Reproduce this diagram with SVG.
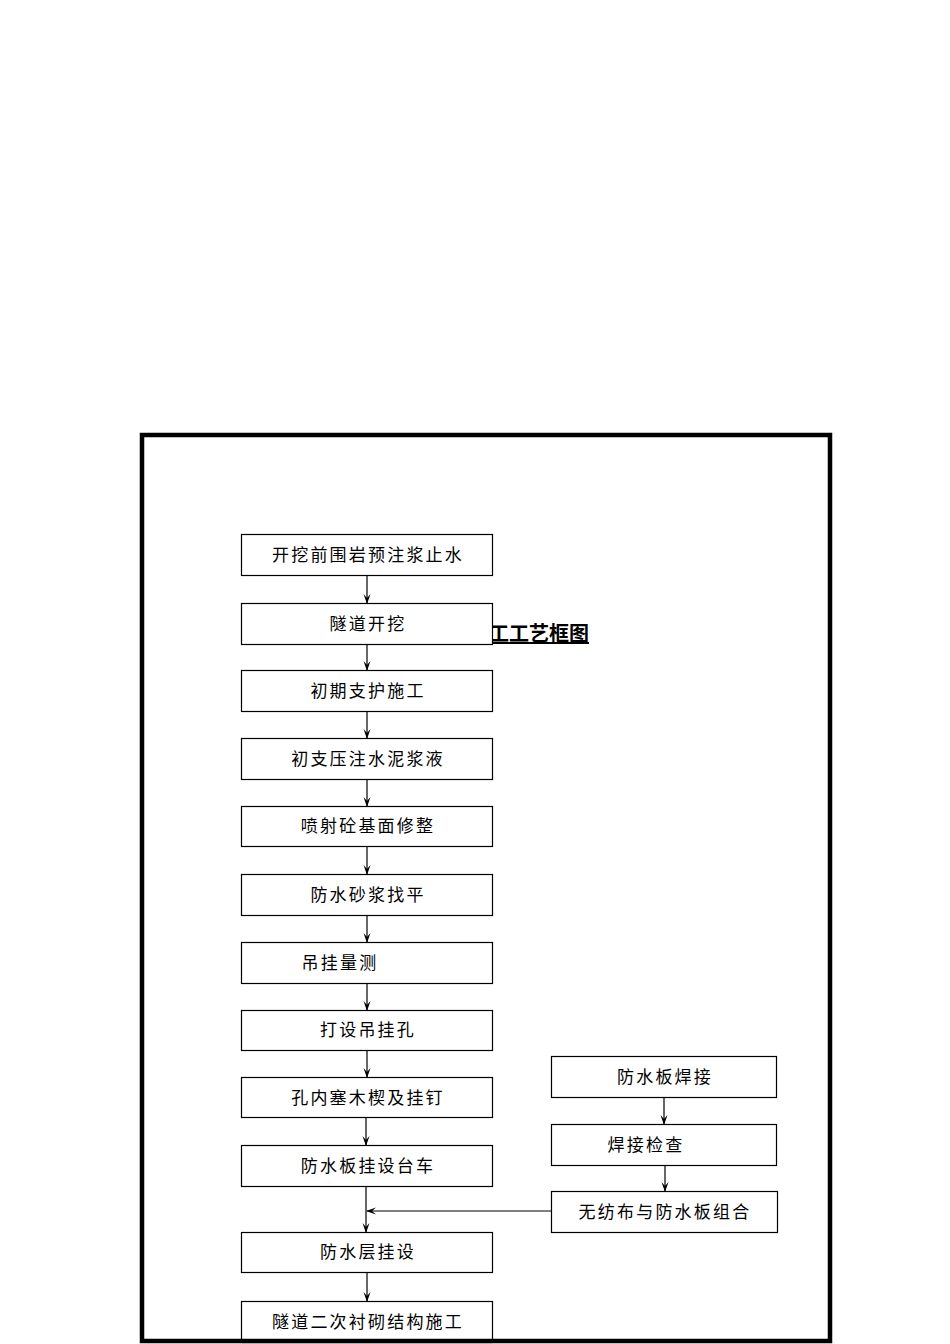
<svg xmlns="http://www.w3.org/2000/svg" width="950" height="1344" viewBox="0 0 950 1344">
<style>
.box{fill:#fff;stroke:#000;stroke-width:1.2}
.t{font-family:"Noto Sans CJK SC","Liberation Sans",sans-serif;font-size:17px;letter-spacing:2.2px;fill:#000;text-anchor:middle}
.c{stroke:#000;stroke-width:1.2;fill:none}
.title{font-family:"Noto Sans CJK SC","Liberation Sans",sans-serif;font-size:20px;font-weight:bold;fill:#000;text-anchor:end;text-decoration:underline}
</style>
<defs>
<marker id="ah" markerUnits="userSpaceOnUse" markerWidth="10" markerHeight="12" refX="9" refY="4" orient="auto" viewBox="0 0 10 8">
<path d="M0,0.5 L10,4 L0,7.5 L4,4 z" fill="#000"/>
</marker>
</defs>
<rect width="950" height="1344" fill="#fff"/>
<text class="title" x="589" y="641">工工艺框图</text>
<g id="connectors">
<line class="c" x1="367" y1="576" x2="367" y2="603" marker-end="url(#ah)"/>
<line class="c" x1="367" y1="645" x2="367" y2="670" marker-end="url(#ah)"/>
<line class="c" x1="367" y1="712" x2="367" y2="738" marker-end="url(#ah)"/>
<line class="c" x1="367" y1="780" x2="367" y2="806" marker-end="url(#ah)"/>
<line class="c" x1="367" y1="847" x2="367" y2="874" marker-end="url(#ah)"/>
<line class="c" x1="367" y1="916" x2="367" y2="942" marker-end="url(#ah)"/>
<line class="c" x1="367" y1="984" x2="367" y2="1010" marker-end="url(#ah)"/>
<line class="c" x1="367" y1="1051" x2="367" y2="1077" marker-end="url(#ah)"/>
<line class="c" x1="366" y1="1118" x2="366" y2="1145" marker-end="url(#ah)"/>
<line class="c" x1="366" y1="1187" x2="366" y2="1232" marker-end="url(#ah)"/>
<line class="c" x1="367" y1="1273" x2="367" y2="1301" marker-end="url(#ah)"/>
<line class="c" x1="664" y1="1098" x2="664" y2="1124" marker-end="url(#ah)"/>
<line class="c" x1="665" y1="1166" x2="665" y2="1191" marker-end="url(#ah)"/>
<line class="c" x1="551" y1="1211" x2="367" y2="1211" marker-end="url(#ah)"/>
</g>
<g id="n1"><rect class="box" x="241.5" y="534.5" width="251" height="41"/><text class="t" x="368" y="561">开挖前围岩预注浆止水</text></g>
<g id="n2"><rect class="box" x="241.5" y="603.5" width="251" height="41"/><text class="t" x="368" y="630">隧道开挖</text></g>
<g id="n3"><rect class="box" x="241.5" y="670.5" width="251" height="41"/><text class="t" x="368" y="697">初期支护施工</text></g>
<g id="n4"><rect class="box" x="241.5" y="738.5" width="251" height="41"/><text class="t" x="368" y="765">初支压注水泥浆液</text></g>
<g id="n5"><rect class="box" x="241.5" y="806.5" width="251" height="40"/><text class="t" x="368" y="832">喷射砼基面修整</text></g>
<g id="n6"><rect class="box" x="241.5" y="874.5" width="251" height="41"/><text class="t" x="368" y="901">防水砂浆找平</text></g>
<g id="n7"><rect class="box" x="241.5" y="942.5" width="251" height="41"/><text class="t" x="340" y="969">吊挂量测</text></g>
<g id="n8"><rect class="box" x="241.5" y="1010.5" width="251" height="40"/><text class="t" x="368" y="1036">打设吊挂孔</text></g>
<g id="n9"><rect class="box" x="241.5" y="1077.5" width="251" height="40"/><text class="t" x="368" y="1104">孔内塞木楔及挂钉</text></g>
<g id="n10"><rect class="box" x="241.5" y="1145.5" width="251" height="41"/><text class="t" x="368" y="1172">防水板挂设台车</text></g>
<g id="n11"><rect class="box" x="241.5" y="1232.5" width="251" height="40"/><text class="t" x="368" y="1258">防水层挂设</text></g>
<g id="n12"><rect class="box" x="241.5" y="1301.5" width="251" height="41"/><text class="t" x="368" y="1328">隧道二次衬砌结构施工</text></g>
<g id="r1"><rect class="box" x="551.5" y="1056.5" width="225" height="41"/><text class="t" x="665" y="1083">防水板焊接</text></g>
<g id="r2"><rect class="box" x="551.5" y="1124.5" width="225" height="41"/><text class="t" x="646" y="1151">焊接检查</text></g>
<g id="r3"><rect class="box" x="551.5" y="1191.5" width="226" height="41"/><text class="t" x="665" y="1218">无纺布与防水板组合</text></g>
<rect x="142" y="435" width="688" height="906" fill="none" stroke="#000" stroke-width="4.5"/>
</svg>
